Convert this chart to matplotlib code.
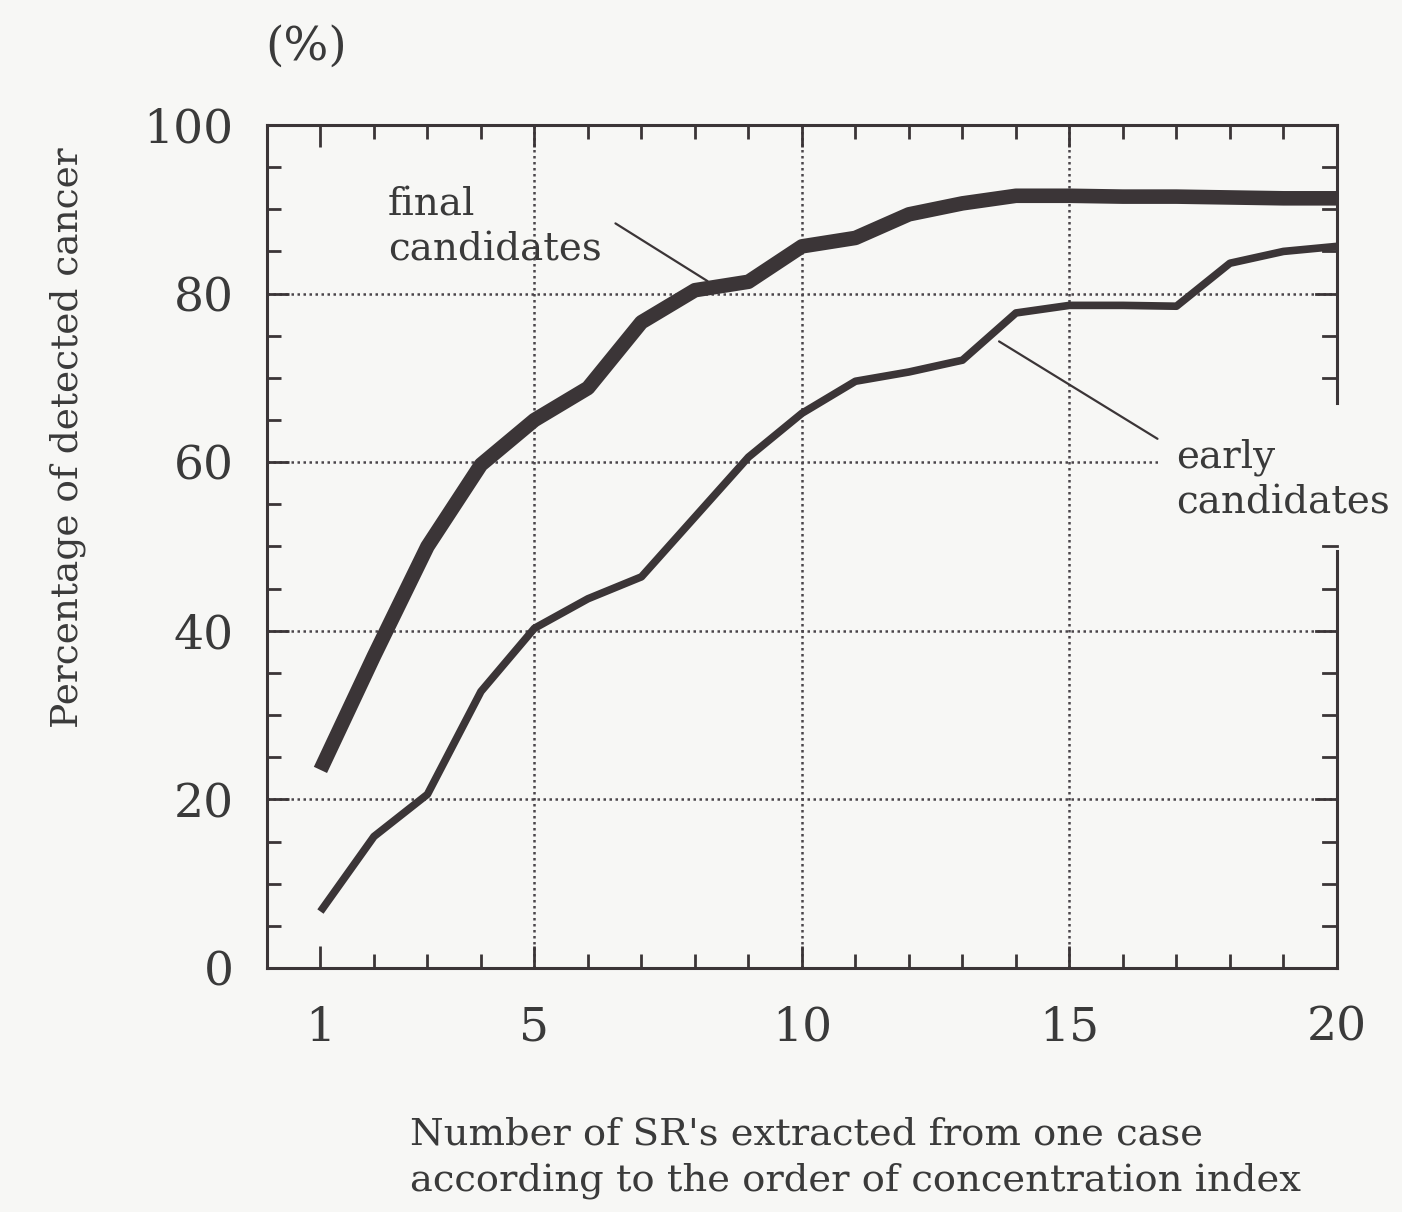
import matplotlib
matplotlib.use("Agg")
import matplotlib.pyplot as plt
import numpy as np

# ---- data ----
n_sr = list(range(1, 21))
final_candidates = [23.5, 37.0, 50.0, 59.7, 65.0, 68.8, 76.6, 80.4, 81.4, 85.6,
                    86.6, 89.4, 90.7, 91.6, 91.6, 91.5, 91.5, 91.4, 91.3, 91.3]
early_candidates = [6.7, 15.6, 20.6, 32.8, 40.3, 43.8, 46.4, 53.5, 60.6, 65.8,
                    69.6, 70.7, 72.1, 77.7, 78.6, 78.6, 78.5, 83.6, 85.0, 85.6]
x_ticks = [1, 5, 10, 15, 20]
y_ticks = [0, 20, 40, 60, 80, 100]

INK = "#3b3537"
TXT = "#3a3a3a"
BG = "#f7f7f5"
FONT = "DejaVu Serif"
plt.rcParams["font.family"] = [FONT]

fig = plt.figure(figsize=(14.02, 12.12), dpi=100, facecolor=BG)
ax = fig.add_axes([0.1904, 0.2013, 0.7632, 0.6956])
ax.set_facecolor(BG)
ax.set_xlim(0, 20)
ax.set_ylim(0, 100)

# grid
grid_kw = dict(color="#4a454a", lw=1.8, ls=(0, (1, 1.4)), zorder=1)
for gx in [5, 10, 15]:
    ax.axvline(gx, **grid_kw)
for gy in [20, 40, 80]:
    ax.axhline(gy, **grid_kw)
ax.axhline(60, xmin=0, xmax=16.7 / 20, **grid_kw)

# series
ax.plot(n_sr, final_candidates, color=INK, lw=10.5, solid_joinstyle="round",
        solid_capstyle="butt", zorder=3, clip_on=False)
ax.plot(n_sr, early_candidates, color=INK, lw=5.5, solid_joinstyle="round",
        solid_capstyle="butt", zorder=3, clip_on=False)

# annotations
ax.annotate("", xy=(8.28, 81.3), xytext=(6.47, 88.5),
            arrowprops=dict(arrowstyle="-", color=INK, lw=1.6))
ax.text(2.26, 92.7, "final\ncandidates", ha="left", va="top", fontsize=28,
        color=TXT, linespacing=1.28)
ax.annotate("", xy=(13.64, 74.5), xytext=(16.69, 62.6),
            arrowprops=dict(arrowstyle="-", color=INK, lw=1.6))
ax.text(17.0, 62.8, "early\ncandidates", ha="left", va="top", fontsize=28,
        color=TXT, linespacing=1.28, clip_on=False)

# spines
for s in ["left", "bottom", "top"]:
    ax.spines[s].set_color(INK)
    ax.spines[s].set_linewidth(2.2)
ax.spines["right"].set_visible(False)
ytr = ax.get_yaxis_transform()
ax.plot([1, 1], [67, 100], color=INK, lw=2.2, transform=ytr, clip_on=False, zorder=4)
ax.plot([1, 1], [0, 49.5], color=INK, lw=2.2, transform=ytr, clip_on=False, zorder=4)
for yv in range(0, 101, 5):
    if 50 < yv < 67:
        continue
    ln = 0.013 if yv % 20 else 0.02
    ax.plot([1 - ln, 1], [yv, yv], color=INK, lw=2.0, transform=ytr,
            clip_on=False, zorder=4)

# ticks
ax.set_xticks(x_ticks)
ax.set_xticks(range(1, 21), minor=True)
ax.set_yticks(y_ticks)
ax.set_yticks(range(0, 101, 5), minor=True)
ax.tick_params(axis="both", which="major", direction="in", length=16, width=2,
               color=INK, labelsize=34, labelcolor=TXT, top=True, right=False)
ax.tick_params(axis="both", which="minor", direction="in", length=10, width=2,
               color=INK, top=True, right=False)
ax.tick_params(axis="x", which="major", pad=27)
ax.tick_params(axis="y", which="major", pad=24)
ax.set_xticklabels([str(v) for v in x_ticks])
ax.set_yticklabels([str(v) for v in y_ticks])

# labels
fig.text(0.0485, 0.639, "Percentage of detected cancer", rotation=90,
         ha="center", va="center", fontsize=27, color=TXT)
fig.text(0.218, 0.961, "(%)", ha="center", va="center", fontsize=34,
         color=TXT)
fig.text(0.2924, 0.079, "Number of SR's extracted from one case\n"
         "according to the order of concentration index",
         ha="left", va="top", fontsize=27.7, color=TXT, linespacing=1.35)

fig.savefig("out.png", dpi=100, facecolor=BG)
